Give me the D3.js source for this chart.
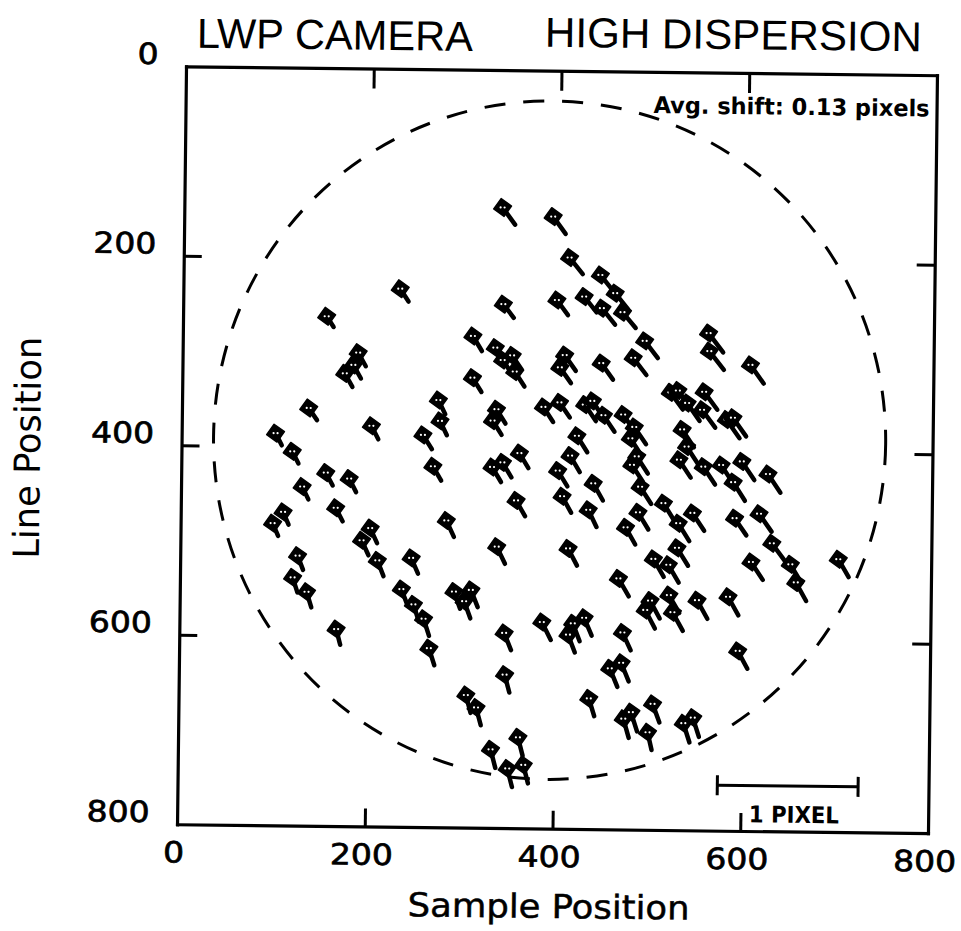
<!DOCTYPE html>
<html>
<head>
<meta charset="utf-8">
<script src="https://cdn.jsdelivr.net/npm/d3@7"></script>
<style>
  html, body { margin: 0; padding: 0; background: #fff; }
  svg { display: block; }
</style>
</head>
<body>
<svg id="chart" width="961" height="931"></svg>
<script>
// ---- data (sample / line position of each measured spot, in detector units) ----
const samplePos = [339,393,231,153,341,398,309,333,351,341,354,187,182,173,402,309,135,273,275,335,
  331,385,402,202,257,100,118,360,268,331,342,154,179,401,411,444,460,427,446,468,
  492,560,561,605,407,446,480,520,528,556,538,554,580,587,429,437,449,470,482,478,
  421,533,538,414,485,480,530,556,575,597,625,439,588,129,109,98,165,202,193,283,
  357,406,337,125,120,135,210,246,236,249,260,292,310,303,266,167,386,346,347,306,
  317,362,333,351,368,489,434,487,474,514,530,545,590,616,413,529,504,520,630,608,
  650,656,701,467,521,501,496,525,551,584,419,431,414,472,595,459,471,437,505,474,
  482,500,538,548];
const linePos = [145,154,232,262,247,242,281,293,301,306,318,300,313,322,313,325,359,349,371,358,
  370,355,350,377,386,386,405,404,419,419,414,427,433,422,197,215,234,238,250,254,
  284,275,294,308,300,308,302,338,336,337,349,356,366,364,352,348,363,362,375,387,
  385,377,395,406,406,415,409,416,414,410,423,435,432,442,469,481,464,485,498,476,
  454,449,503,515,538,553,519,516,549,565,580,551,549,561,611,592,582,594,638,660,
  673,704,717,737,733,438,463,465,481,455,476,465,470,465,504,502,514,520,496,516,
  518,537,512,535,552,558,568,570,557,553,583,577,595,592,610,630,624,662,667,683,
  676,697,687,681];
// shift of each spot, in pixels (drawn magnified by the 1-pixel scale bar)
const shiftX = [0.09,0.09,0.06,0.05,0.075,0.08,0.065,0.07,0.07,0.07,0.07,0.055,0.055,0.055,0.08,0.065,0.06,0.05,0.05,0.065,
  0.065,0.07,0.075,0.05,0.065,0.045,0.045,0.065,0.06,0.065,0.065,0.05,0.05,0.07,0.095,0.095,0.095,0.09,0.095,0.095,
  0.095,0.105,0.105,0.095,0.08,0.085,0.095,0.09,0.09,0.095,0.09,0.095,0.095,0.095,0.08,0.08,0.08,0.085,0.085,0.08,
  0.075,0.085,0.085,0.07,0.08,0.08,0.085,0.085,0.085,0.09,0.09,0.07,0.085,0.045,0.04,0.04,0.05,0.05,0.05,0.055,
  0.065,0.065,0.06,0.04,0.035,0.035,0.045,0.05,0.045,0.04,0.04,0.045,0.05,0.045,0.04,0.03,0.065,0.05,0.035,0.035,
  0.035,0.035,0.035,0.035,0.035,0.08,0.06,0.075,0.07,0.08,0.08,0.085,0.085,0.09,0.065,0.08,0.075,0.075,0.095,0.085,
  0.08,0.075,0.075,0.075,0.075,0.07,0.07,0.075,0.075,0.075,0.05,0.055,0.05,0.06,0.07,0.055,0.055,0.04,0.05,0.04,
  0.045,0.03,0.045,0.045];
const shiftY = [0.12,0.12,0.09,0.075,0.095,0.105,0.105,0.10,0.10,0.10,0.105,0.095,0.095,0.095,0.11,0.10,0.085,0.10,0.10,0.10,
  0.10,0.105,0.105,0.095,0.10,0.085,0.085,0.105,0.10,0.105,0.105,0.09,0.095,0.11,0.115,0.115,0.115,0.11,0.115,0.11,
  0.12,0.135,0.13,0.13,0.11,0.115,0.12,0.12,0.12,0.125,0.125,0.125,0.13,0.13,0.115,0.115,0.115,0.12,0.12,0.12,
  0.115,0.125,0.125,0.115,0.12,0.12,0.125,0.125,0.125,0.13,0.13,0.12,0.13,0.09,0.09,0.09,0.095,0.105,0.105,0.115,
  0.11,0.115,0.12,0.10,0.105,0.11,0.11,0.11,0.115,0.12,0.12,0.12,0.12,0.12,0.12,0.11,0.125,0.12,0.125,0.125,
  0.125,0.13,0.13,0.13,0.13,0.12,0.12,0.12,0.12,0.125,0.125,0.125,0.12,0.125,0.12,0.125,0.125,0.125,0.125,0.125,
  0.13,0.13,0.125,0.125,0.125,0.125,0.13,0.13,0.13,0.13,0.125,0.125,0.125,0.125,0.125,0.13,0.13,0.125,0.13,0.135,
  0.135,0.125,0.135,0.135];

const xTicks = [0, 200, 400, 600, 800];
const yTicks = [0, 200, 400, 600, 800];
const innerTicks = [200, 400, 600];
const titleLeft = "LWP CAMERA";
const titleRight = "HIGH DISPERSION";
const xLabel = "Sample Position";
const yLabel = "Line Position";
const noteText = "Avg. shift: 0.13 pixels";
const barLabel = "1 PIXEL";
const fieldCenter = [392, 390];   // centre of the camera field (sample, line)
const fieldRadius = 358;
const pixelUnits = 150;           // plot units per 1 pixel of shift
const scaleBar = {x0: 575, y: 752};

// ---- layout ----
const svg = d3.select("#chart");
svg.append("rect").attr("width", 961).attr("height", 931).attr("fill", "#fff");
// the original figure is a scan that is slightly rotated
const g = svg.append("g").attr("transform", "rotate(0.68,557,449.75)");

const x = d3.scaleLinear().domain([0, 800]).range([181.5, 932.5]);
const y = d3.scaleLinear().domain([0, 800]).range([70.75, 828.75]);

const ink = "#000";
const tickLen = 18;

function styleAxis(sel) {
  sel.select(".domain").attr("stroke", ink).attr("stroke-width", 3.2).attr("stroke-linecap", "square");
  sel.selectAll(".tick line").attr("stroke", ink).attr("stroke-width", 3);
  sel.selectAll(".tick text").remove();
}
g.append("g").attr("transform", `translate(0,${y(800)})`)
  .call(d3.axisBottom(x).tickValues(innerTicks).tickSizeInner(-tickLen).tickSizeOuter(0).tickFormat(""))
  .call(styleAxis);
g.append("g").attr("transform", `translate(0,${y(0)})`)
  .call(d3.axisTop(x).tickValues(innerTicks).tickSizeInner(-tickLen - 2).tickSizeOuter(0).tickFormat(""))
  .call(styleAxis);
g.append("g").attr("transform", `translate(${x(0)},0)`)
  .call(d3.axisLeft(y).tickValues(innerTicks).tickSizeInner(-tickLen).tickSizeOuter(0).tickFormat(""))
  .call(styleAxis);
g.append("g").attr("transform", `translate(${x(800)},0)`)
  .call(d3.axisRight(y).tickValues(innerTicks).tickSizeInner(-tickLen).tickSizeOuter(0).tickFormat(""))
  .call(styleAxis);

// tick labels
const labelFont = "'DejaVu Sans', 'Noto Sans', sans-serif";
g.append("g").selectAll("text").data(xTicks).join("text")
  .attr("x", d => x(d) - 3).attr("y", 867)
  .attr("text-anchor", "middle")
  .attr("font-family", labelFont).attr("font-size", 29)
  .attr("stroke", ink).attr("stroke-width", 0.7)
  .attr("textLength", d => String(d).length * 21).attr("lengthAdjust", "spacingAndGlyphs")
  .text(d => d);
g.append("g").selectAll("text").data(yTicks).join("text")
  .attr("x", 154).attr("y", d => y(d) - 2)
  .attr("text-anchor", "end")
  .attr("font-family", labelFont).attr("font-size", 29)
  .attr("stroke", ink).attr("stroke-width", 0.7)
  .attr("textLength", d => String(d).length * 21).attr("lengthAdjust", "spacingAndGlyphs")
  .text(d => d);

// titles
g.append("text").attr("x", 192).attr("y", 52)
  .attr("font-family", "'Liberation Sans', Arial, sans-serif").attr("font-size", 42)
  .attr("textLength", 276).attr("lengthAdjust", "spacingAndGlyphs")
  .text(titleLeft);
g.append("text").attr("x", 540).attr("y", 47)
  .attr("font-family", "'Liberation Sans', Arial, sans-serif").attr("font-size", 42)
  .attr("textLength", 377).attr("lengthAdjust", "spacingAndGlyphs")
  .text(titleRight);

// axis titles
g.append("text").attr("x", 554).attr("y", 918).attr("text-anchor", "middle")
  .attr("font-family", labelFont).attr("font-size", 33)
  .attr("stroke", ink).attr("stroke-width", 0.5)
  .attr("textLength", 282).attr("lengthAdjust", "spacingAndGlyphs")
  .text(xLabel);
g.append("text").attr("transform", "translate(40,454) rotate(-90)").attr("text-anchor", "middle")
  .attr("font-family", "'DejaVu Sans Condensed', 'Liberation Sans Narrow', 'DejaVu Sans', sans-serif")
  .attr("font-size", 36)
  .attr("textLength", 222).attr("lengthAdjust", "spacingAndGlyphs")
  .text(yLabel);

// note
g.append("text").attr("x", x(800) - 7).attr("y", 112).attr("text-anchor", "end")
  .attr("font-family", labelFont).attr("font-size", 23).attr("font-weight", "bold")
  .attr("textLength", 276).attr("lengthAdjust", "spacingAndGlyphs")
  .text(noteText);

// dashed field circle
g.append("ellipse")
  .attr("cx", x(fieldCenter[0])).attr("cy", y(fieldCenter[1]))
  .attr("rx", x(fieldRadius) - x(0)).attr("ry", y(fieldRadius) - y(0))
  .attr("fill", "none").attr("stroke", ink).attr("stroke-width", 3)
  .attr("stroke-dasharray", "21 18");

// scale bar
const bx0 = x(scaleBar.x0), bx1 = x(scaleBar.x0 + pixelUnits), by = y(scaleBar.y);
const bar = g.append("g").attr("stroke", ink).attr("stroke-width", 3);
bar.append("line").attr("x1", bx0).attr("x2", bx1).attr("y1", by).attr("y2", by);
bar.append("line").attr("x1", bx0).attr("x2", bx0).attr("y1", by - 10).attr("y2", by + 10);
bar.append("line").attr("x1", bx1).attr("x2", bx1).attr("y1", by - 10).attr("y2", by + 10);
g.append("text").attr("x", bx0 + 32).attr("y", 820)
  .attr("font-family", labelFont).attr("font-size", 23).attr("font-weight", "bold")
  .attr("textLength", 90).attr("lengthAdjust", "spacingAndGlyphs")
  .text(barLabel);

// spots: diamond head + shift vector
const spots = samplePos.map((s, i) => ({s, l: linePos[i], dx: shiftX[i], dy: shiftY[i]}));
const mk = g.append("g").selectAll("g").data(spots).join("g")
  .attr("transform", d => `translate(${x(d.s)},${y(d.l)})`);
mk.append("line")
  .attr("x1", 0).attr("y1", 0)
  .attr("x2", d => x(d.s + d.dx * pixelUnits) - x(d.s))
  .attr("y2", d => y(d.l + d.dy * pixelUnits) - y(d.l))
  .attr("stroke", ink).attr("stroke-width", 4.5).attr("stroke-linecap", "round");
const h = 9;
mk.append("path").attr("d", `M0,${-h}L${h},0L0,${h}L${-h},0Z`)
  .attr("transform", "rotate(-10)").attr("fill", ink)
  .attr("stroke", ink).attr("stroke-width", 1.5).attr("stroke-linejoin", "round");
mk.append("circle").attr("cx", -2).attr("r", 1.1).attr("fill", "#fff");
mk.append("circle").attr("cx", 2).attr("r", 1.1).attr("fill", "#fff");
</script>
</body>
</html>
